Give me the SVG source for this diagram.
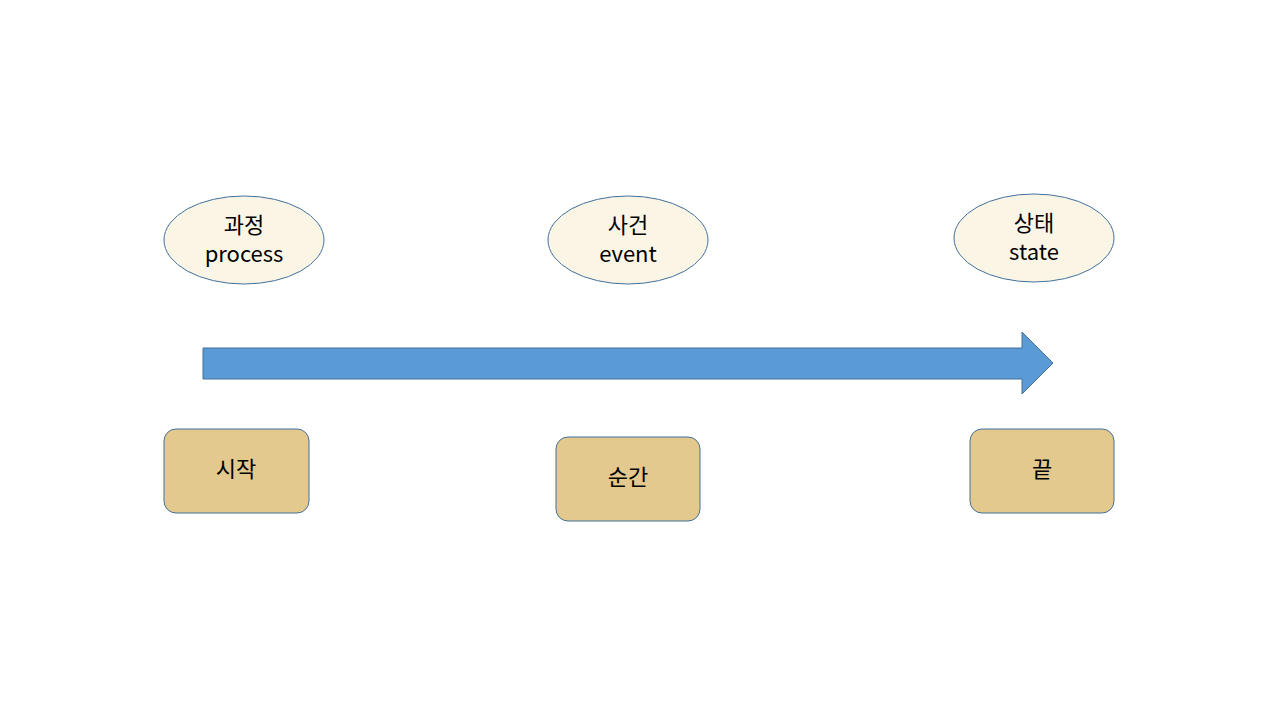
<svg xmlns="http://www.w3.org/2000/svg" width="1280" height="720" viewBox="0 0 1280 720">
<style>
.ell{fill:#fbf5e6;stroke:#41719c;stroke-width:1}
.box{fill:#e3c98e;stroke:#41719c;stroke-width:1}
text{font-family:"Noto Sans CJK KR","Open Sans",sans-serif;font-size:22px;fill:#000;text-anchor:middle}
</style>
<rect width="1280" height="720" fill="#fff"/>
<g id="connectors">
<polygon points="203,348 1022,348 1022,332 1053,363 1022,394 1022,379 203,379" fill="#5b9bd5" stroke="#41719c" stroke-width="1"/>
</g>
<g id="process"><ellipse class="ell" cx="244" cy="240" rx="80" ry="44"/><text x="244" y="233">과정</text><text x="244" y="262">process</text></g>
<g id="event"><ellipse class="ell" cx="628" cy="240" rx="80" ry="44"/><text x="628" y="233">사건</text><text x="628" y="262">event</text></g>
<g id="state"><ellipse class="ell" cx="1034" cy="238" rx="80" ry="44"/><text x="1034" y="231">상태</text><text x="1034" y="260">state</text></g>
<g id="start"><rect class="box" x="164" y="429" width="145" height="84" rx="12"/><text x="236" y="477">시작</text></g>
<g id="moment"><rect class="box" x="556" y="437" width="144" height="84" rx="12"/><text x="628" y="485">순간</text></g>
<g id="end"><rect class="box" x="970" y="429" width="144" height="84" rx="12"/><text x="1042" y="477">끝</text></g>
</svg>
